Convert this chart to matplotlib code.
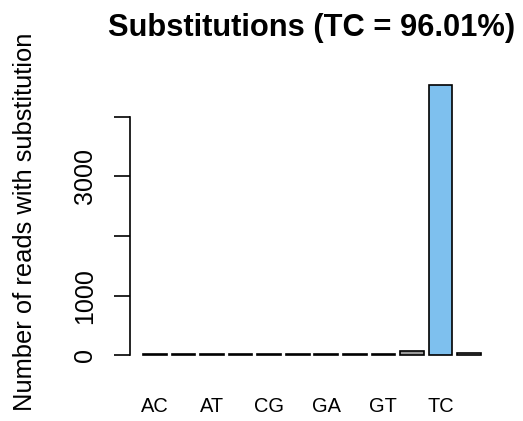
import matplotlib
matplotlib.use("Agg")
import matplotlib.pyplot as plt

# substitution counts
subs = ["AC", "AG", "AT", "CA", "CG", "CT", "GA", "GC", "GT", "TA", "TC", "TG"]
counts = [14, 14, 14, 14, 14, 14, 14, 14, 14, 65, 4538, 30]
bar_colors = ["#BEBEBE"] * 9 + ["#999999", "#7EC0EE", "#BEBEBE"]
shown_names = ["AC", "AT", "CG", "GA", "GT", "TC"]
ytick_vals = [0, 1000, 2000, 3000, 4000]
ytick_text = ["0", "1000", "", "3000", ""]

W, H = 523, 421
plt.rcParams["font.family"] = ["Liberation Sans", "DejaVu Sans"]

fig = plt.figure(figsize=(W / 100, H / 100), dpi=100)
ax = fig.add_axes([129.5 / W, 1 - 366 / H, (494.5 - 129.5) / W, (366 - 74) / H])

# R barplot layout: width 1, space 0.2
lefts = [0.2 + 1.2 * i for i in range(len(subs))]
centers = [l + 0.5 for l in lefts]
ax.bar(centers, counts, width=1.0, color=bar_colors, edgecolor="black", linewidth=1.2)

top = max(counts)
ax.set_xlim(0.2 - 0.04 * 14.2, 14.4 + 0.04 * 14.2)
ax.set_ylim(-0.04 * top, top * 1.04)

for side in ["top", "right", "bottom"]:
    ax.spines[side].set_visible(False)
ax.spines["left"].set_bounds(0, 4000)
ax.spines["left"].set_linewidth(1.2)

ax.set_yticks(ytick_vals)
ax.set_yticklabels(ytick_text, fontsize=18)
ax.tick_params(axis="y", length=11.5, width=1.2, pad=12)
for lbl in ax.get_yticklabels():
    lbl.set_rotation(90)
    lbl.set_va("center")
    lbl.set_ha("right")

name_pos = [centers[subs.index(n)] for n in shown_names]
ax.set_xticks(name_pos)
ax.set_xticklabels(shown_names, fontsize=14.4)
ax.tick_params(axis="x", length=0, pad=22)

fig.text(312 / W, 1 - 28 / H, "Substitutions (TC = 96.01%)", ha="center", va="center",
         fontsize=22.2, fontweight="bold")
fig.text(25 / W, 1 - 222 / H, "Number of reads with substitution", ha="center", va="center",
         rotation=90, fontsize=18.4)

fig.savefig("out.png", dpi=100)
